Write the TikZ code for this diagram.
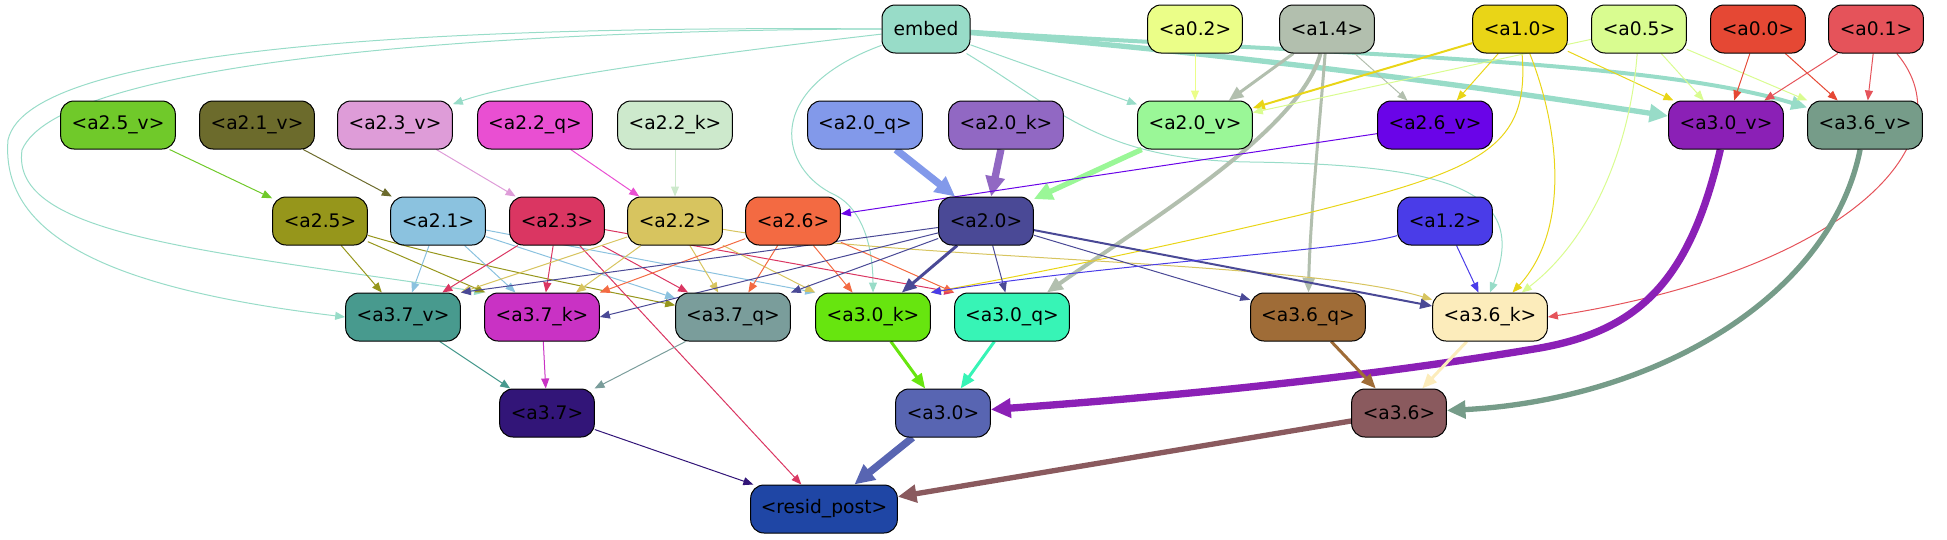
\documentclass[tikz,border=0pt]{standalone}
\usepackage{fontspec}
\setmainfont{DejaVu Sans}
\usetikzlibrary{arrows.meta,backgrounds}
\definecolor{cemb}{HTML}{98DCC8}
\definecolor{ca02}{HTML}{EBFE88}
\definecolor{ca14}{HTML}{B2BFAE}
\definecolor{ca10}{HTML}{E9D517}
\definecolor{ca05}{HTML}{D9FC90}
\definecolor{ca00}{HTML}{E54834}
\definecolor{ca01}{HTML}{E5535A}
\definecolor{ca25v}{HTML}{70C92A}
\definecolor{ca21v}{HTML}{6C6B2C}
\definecolor{ca23v}{HTML}{DE9CD8}
\definecolor{ca22q}{HTML}{E94FD2}
\definecolor{ca22k}{HTML}{CDE9CC}
\definecolor{ca20q}{HTML}{8299EA}
\definecolor{ca20k}{HTML}{9168C3}
\definecolor{ca20v}{HTML}{9AF797}
\definecolor{ca26v}{HTML}{6A04E8}
\definecolor{ca30v}{HTML}{8B20B6}
\definecolor{ca36v}{HTML}{769C89}
\definecolor{ca25}{HTML}{96961B}
\definecolor{ca21}{HTML}{8BC2DF}
\definecolor{ca23}{HTML}{DA3662}
\definecolor{ca22}{HTML}{D7C45F}
\definecolor{ca26}{HTML}{F36A42}
\definecolor{ca20}{HTML}{4A4996}
\definecolor{ca12}{HTML}{4A3CE8}
\definecolor{ca37v}{HTML}{489A8E}
\definecolor{ca37k}{HTML}{C932C4}
\definecolor{ca37q}{HTML}{7A9D9B}
\definecolor{ca30k}{HTML}{67E50F}
\definecolor{ca30q}{HTML}{37F4B6}
\definecolor{ca36q}{HTML}{9F6C37}
\definecolor{ca36k}{HTML}{FCECBB}
\definecolor{ca37}{HTML}{321578}
\definecolor{ca30}{HTML}{5865B2}
\definecolor{ca36}{HTML}{8A5A5E}
\definecolor{crp}{HTML}{1F46A5}
\begin{document}
\begin{tikzpicture}[x=0.75pt,y=-0.75pt,
  nd/.style={draw=black, line width=0.75pt, rounded corners=10pt, minimum height=36pt, inner sep=0pt, font=\fontsize{14}{16}\selectfont, text=black},
  wv/.style={minimum width=86pt},
  wa/.style={minimum width=71pt},
  we/.style={minimum width=66pt},
  wr/.style={minimum width=110pt},
  ea/.style={line width=0.75pt, -{Triangle[length=7.5pt,width=6pt]}},
  eb/.style={line width=1.5pt, -{Triangle[length=9pt,width=7.5pt]}},
  ec/.style={line width=2.25pt, -{Triangle[length=11pt,width=9pt]}},
  ed/.style={line width=3pt, -{Triangle[length=12pt,width=10pt]}},
  ee/.style={line width=4pt, -{Triangle[length=14pt,width=13pt]}},
  ef/.style={line width=5.5pt, -{Triangle[length=15pt,width=14pt]}}
]
\useasboundingbox (0,0) rectangle (1947,539);
% row 1
\node[nd,we,fill=cemb] (emb) at (926,29) {embed};
\node[nd,wa,fill=ca02] (a02) at (1195,29) {<a0.2>};
\node[nd,wa,fill=ca14] (a14) at (1327,29) {<a1.4>};
\node[nd,wa,fill=ca10] (a10) at (1520,29) {<a1.0>};
\node[nd,wa,fill=ca05] (a05) at (1639,29) {<a0.5>};
\node[nd,wa,fill=ca00] (a00) at (1758,29) {<a0.0>};
\node[nd,wa,fill=ca01] (a01) at (1876,29) {<a0.1>};
% row 2
\node[nd,wv,fill=ca25v] (a25v) at (118,125) {<a2.5\_v>};
\node[nd,wv,fill=ca21v] (a21v) at (257,125) {<a2.1\_v>};
\node[nd,wv,fill=ca23v] (a23v) at (395,125) {<a2.3\_v>};
\node[nd,wv,fill=ca22q] (a22q) at (535,125) {<a2.2\_q>};
\node[nd,wv,fill=ca22k] (a22k) at (675,125) {<a2.2\_k>};
\node[nd,wv,fill=ca20q] (a20q) at (865,125) {<a2.0\_q>};
\node[nd,wv,fill=ca20k] (a20k) at (1006,125) {<a2.0\_k>};
\node[nd,wv,fill=ca20v] (a20v) at (1195,125) {<a2.0\_v>};
\node[nd,wv,fill=ca26v] (a26v) at (1435,125) {<a2.6\_v>};
\node[nd,wv,fill=ca30v] (a30v) at (1726,125) {<a3.0\_v>};
\node[nd,wv,fill=ca36v] (a36v) at (1865,125) {<a3.6\_v>};
% row 3
\node[nd,wa,fill=ca25] (a25) at (320,221) {<a2.5>};
\node[nd,wa,fill=ca21] (a21) at (438,221) {<a2.1>};
\node[nd,wa,fill=ca23] (a23) at (557,221) {<a2.3>};
\node[nd,wa,fill=ca22] (a22) at (675,221) {<a2.2>};
\node[nd,wa,fill=ca26] (a26) at (793,221) {<a2.6>};
\node[nd,wa,fill=ca20] (a20) at (986,221) {<a2.0>};
\node[nd,wa,fill=ca12] (a12) at (1445,221) {<a1.2>};
% row 4
\node[nd,wv,fill=ca37v] (a37v) at (403,317) {<a3.7\_v>};
\node[nd,wv,fill=ca37k] (a37k) at (542,317) {<a3.7\_k>};
\node[nd,wv,fill=ca37q] (a37q) at (733,317) {<a3.7\_q>};
\node[nd,wv,fill=ca30k] (a30k) at (873,317) {<a3.0\_k>};
\node[nd,wv,fill=ca30q] (a30q) at (1012,317) {<a3.0\_q>};
\node[nd,wv,fill=ca36q] (a36q) at (1308,317) {<a3.6\_q>};
\node[nd,wv,fill=ca36k] (a36k) at (1490,317) {<a3.6\_k>};
% row 5
\node[nd,wa,fill=ca37] (a37) at (547,413) {<a3.7>};
\node[nd,wa,fill=ca30] (a30) at (943,413) {<a3.0>};
\node[nd,wa,fill=ca36] (a36) at (1399,413) {<a3.6>};
% row 6
\node[nd,wr,fill=crp] (rp) at (824,509) {<resid\_post>};

\begin{scope}[on background layer]
% embed
\draw[ee,cemb] (emb) .. controls (1250,55) and (1500,90) .. (a30v);
\draw[ed,cemb] (emb) .. controls (1350,55) and (1650,60) .. (a36v);
\draw[ea,cemb] (emb) -- (a20v);
\draw[ea,cemb] (emb) .. controls (700,55) and (520,80) .. (a23v);
\draw[ea,cemb] (emb.west) .. controls (500,26) and (30,40) .. (8,140) .. controls (0,240) and (120,290) .. (a37v.west);
\draw[ea,cemb] (emb.west) .. controls (500,30) and (60,60) .. (22,150) .. controls (10,235) and (200,250) .. (a37k.north west);
\draw[ea,cemb] (emb) .. controls (760,90) and (780,170) .. (835,195) .. controls (868,212) and (873,260) .. (a30k.north);
\draw[ea,cemb] (emb) .. controls (1060,110) and (1100,160) .. (1250,162) .. controls (1450,165) and (1530,190) .. (a36k.north);
% row 1
\draw[ea,ca02] (a02) -- (a20v);
\draw[ec,ca14] (a14) -- (a20v);
\draw[ea,ca14] (a14) -- (a26v);
\draw[ed,ca14] (a14) .. controls (1300,130) and (1150,220) .. (a30q);
\draw[ec,ca14] (a14) .. controls (1320,120) and (1310,220) .. (a36q);
\draw[eb,ca10] (a10) -- (a20v);
\draw[ea,ca10] (a10) -- (a26v);
\draw[ea,ca10] (a10) -- (a30v);
\draw[ea,ca10] (a10) .. controls (1530,150) and (1480,170) .. (1300,215) .. controls (1100,262) and (970,285) .. (a30k.north east);
\draw[ea,ca10] (a10) .. controls (1560,130) and (1570,230) .. (a36k);
\draw[ea,ca05] (a05) -- (a20v);
\draw[ea,ca05] (a05) -- (a30v);
\draw[ea,ca05] (a05) -- (a36v);
\draw[ea,ca05] (a05) .. controls (1630,150) and (1590,240) .. (a36k);
\draw[ea,ca00] (a00) -- (a30v);
\draw[ea,ca00] (a00) -- (a36v);
\draw[ea,ca01] (a01) -- (a30v);
\draw[ea,ca01] (a01) -- (a36v);
\draw[ea,ca01] (a01) .. controls (1970,140) and (1850,270) .. (a36k.east);
% row 2 -> row 3
\draw[ea,ca25v] (a25v) -- (a25);
\draw[ea,ca21v] (a21v) -- (a21);
\draw[ea,ca23v] (a23v) -- (a23);
\draw[ea,ca22q] (a22q) -- (a22);
\draw[ea,ca22k] (a22k) -- (a22);
\draw[ef,ca20q] (a20q) -- (a20);
\draw[ef,ca20k] (a20k) -- (a20);
\draw[ee,ca20v] (a20v) -- (a20);
\draw[ea,ca26v] (a26v) -- (a26);
% row 3 -> row 4
\draw[ea,ca25] (a25) -- (a37v);
\draw[ea,ca25] (a25) -- (a37k);
\draw[ea,ca25] (a25) .. controls (450,260) and (600,290) .. (a37q);
\draw[ea,ca21] (a21) -- (a37v);
\draw[ea,ca21] (a21) -- (a37k);
\draw[ea,ca21] (a21) -- (a37q);
\draw[ea,ca21] (a21) -- (a30k.north west);
\draw[ea,ca23] (a23) -- (a37v);
\draw[ea,ca23] (a23) -- (a37k);
\draw[ea,ca23] (a23) -- (a37q);
\draw[ea,ca23] (a23) -- (a30q.north west);
\draw[ea,ca23] (a23) -- (rp);
\draw[ea,ca22] (a22) -- (a37v.north east);
\draw[ea,ca22] (a22) -- (a37k);
\draw[ea,ca22] (a22) -- (a37q);
\draw[ea,ca22] (a22) -- (a30k.north west);
\draw[ea,ca22] (a22) .. controls (900,260) and (1300,260) .. (a36k);
\draw[ea,ca26] (a26) -- (a37k.north east);
\draw[ea,ca26] (a26) -- (a37q);
\draw[ea,ca26] (a26) -- (a30k);
\draw[ea,ca26] (a26) -- (a30q.north west);
\draw[ea,ca20] (a20) -- (a37v.north east);
\draw[ea,ca20] (a20) -- (a37k.east);
\draw[ea,ca20] (a20) -- (a37q.north east);
\draw[ec,ca20] (a20) -- (a30k);
\draw[ea,ca20] (a20) -- (a30q);
\draw[ea,ca20] (a20) -- (a36q);
\draw[eb,ca20] (a20) -- (a36k);
\draw[ea,ca12] (a12) .. controls (1350,250) and (1100,265) .. (a30k.north east);
\draw[ea,ca12] (a12) -- (a36k);
% row 4 -> row 5
\draw[ea,ca37v] (a37v) -- (a37);
\draw[ea,ca37k] (a37k) -- (a37);
\draw[ea,ca37q] (a37q) -- (a37);
\draw[ec,ca30k] (a30k) -- (a30);
\draw[ec,ca30q] (a30q) -- (a30);
\draw[ef,ca30v] (a30v) .. controls (1690,280) and (1640,330) .. (1540,348) .. controls (1350,380) and (1150,398) .. (a30);
\draw[ec,ca36q] (a36q) -- (a36);
\draw[ec,ca36k] (a36k) -- (a36);
\draw[ee,ca36v] (a36v) .. controls (1830,300) and (1650,400) .. (a36);
% row 5 -> row 6
\draw[ea,ca37] (a37) -- (rp);
\draw[ef,ca30] (a30) -- (rp);
\draw[ee,ca36] (a36) -- (rp);
\end{scope}
\end{tikzpicture}
\end{document}
